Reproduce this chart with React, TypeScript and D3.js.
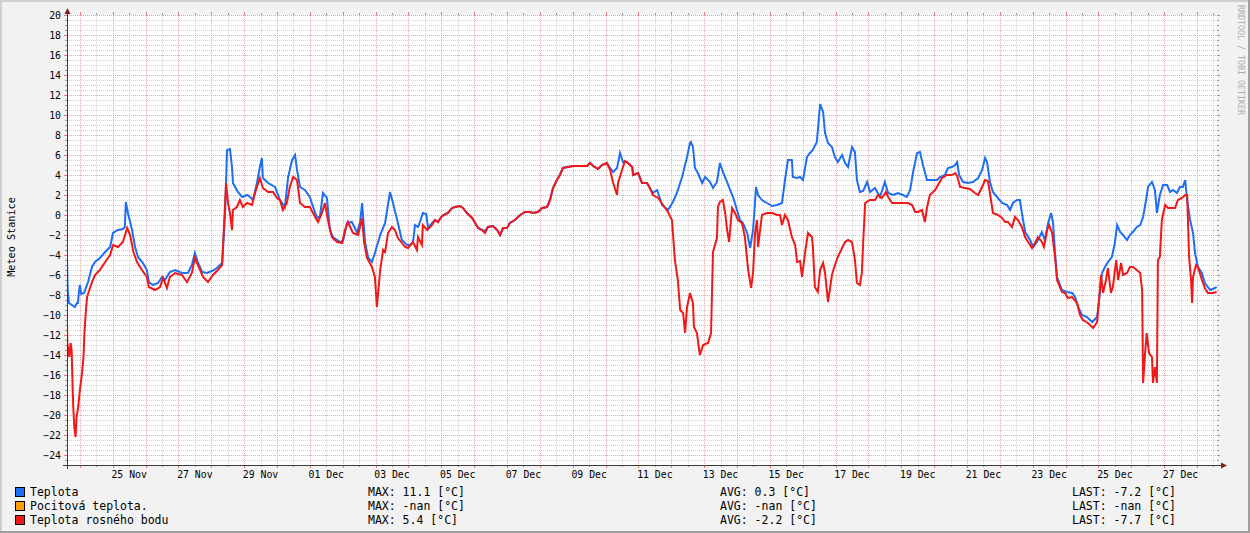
import React from "react";
import * as d3 from "d3";

// ---- data (time = days from 25 Nov 00:00 UTC, value = °C) ----
const BASE_UTC = Date.UTC(2023, 10, 25);
const DAY_MS = 86400000;
const RANGE_START_DAYS = -1.391;
const RANGE_END_DAYS = 33.609;

const teplota: [number, number][] = [
  [-1.39, -4.2], [-1.37, -7.5], [-1.33, -8.8], [-1.24, -9.0], [-1.15, -9.2], [-1.09, -8.8], [-1.06, -8.8], [-1.03, -7.8], [-1.0, -7.0], [-0.96, -7.9],
  [-0.87, -7.8], [-0.75, -6.7], [-0.63, -5.2], [-0.54, -4.7], [-0.39, -4.3], [-0.23, -3.7], [-0.08, -3.2], [0.01, -1.8], [0.16, -1.5], [0.31, -1.4],
  [0.37, -1.2], [0.4, 1.3], [0.47, 0.1], [0.59, -1.5], [0.68, -3.2], [0.77, -4.2], [0.92, -4.8], [1.04, -5.5], [1.1, -6.7], [1.23, -7.0],
  [1.38, -6.8], [1.5, -6.2], [1.59, -6.5], [1.74, -5.7], [1.9, -5.5], [2.11, -5.8], [2.29, -5.8], [2.41, -5.0], [2.5, -3.8], [2.6, -4.8],
  [2.72, -5.7], [2.87, -5.8], [3.02, -5.6], [3.17, -5.3], [3.33, -4.8], [3.36, -3.2], [3.42, 0.2], [3.48, 6.5], [3.57, 6.6], [3.63, 4.8],
  [3.66, 3.2], [3.81, 2.3], [3.94, 1.8], [4.09, 2.0], [4.18, 1.8], [4.27, 1.5], [4.39, 3.2], [4.48, 4.8], [4.54, 5.7], [4.57, 3.7],
  [4.73, 3.2], [4.94, 2.8], [5.09, 1.5], [5.24, 0.8], [5.34, 3.8], [5.46, 5.5], [5.55, 6.0], [5.61, 4.5], [5.7, 2.8], [5.85, 2.5],
  [6.0, 1.8], [6.1, 0.8], [6.22, -0.3], [6.31, -0.1], [6.4, 2.2], [6.52, 1.7], [6.61, -1.5], [6.7, -2.2], [6.92, -2.7], [7.01, -2.6],
  [7.13, -0.8], [7.28, -0.7], [7.44, -1.8], [7.53, -0.7], [7.59, 1.2], [7.68, -2.7], [7.77, -4.2], [7.89, -4.7], [7.98, -3.8], [8.14, -2.0],
  [8.29, -0.8], [8.44, 2.3], [8.53, 1.2], [8.68, -0.8], [8.8, -2.5], [8.96, -3.0], [9.05, -3.0], [9.14, -2.7], [9.2, -1.0], [9.29, -1.2],
  [9.35, -0.7], [9.44, 0.2], [9.54, 0.1], [9.6, -1.3], [9.72, -0.8],
  [9.81, -0.5], [9.9, -0.7], [10.02, -0.1], [10.2, 0.2], [10.33, 0.7], [10.42, 0.8], [10.57, 0.9], [10.66, 0.7], [10.78, 0.2], [10.94, -0.3],
  [11.03, -0.8], [11.12, -1.3], [11.24, -1.5], [11.33, -1.6], [11.42, -1.2], [11.57, -1.1], [11.7, -1.5], [11.79, -2.0], [11.88, -1.3], [12.0, -1.3],
  [12.09, -0.8], [12.24, -0.5], [12.4, 0.0], [12.55, 0.3], [12.7, 0.3], [12.79, 0.2], [12.94, 0.3], [13.07, 0.7], [13.22, 0.8], [13.31, 1.5],
  [13.4, 2.7], [13.52, 3.5], [13.61, 4.0], [13.7, 4.7], [13.86, 4.8], [14.01, 4.9], [14.22, 4.9], [14.44, 4.9], [14.53, 5.2], [14.62, 4.9],
  [14.77, 4.6], [14.89, 5.0], [15.04, 5.2],
  [15.14, 4.7], [15.23, 4.3], [15.35, 4.7], [15.44, 6.2], [15.53, 5.3], [15.65, 5.3], [15.81, 4.8], [15.84, 4.0], [15.99, 4.2], [16.11, 3.2],
  [16.26, 3.2], [16.35, 2.7], [16.44, 2.2], [16.57, 2.5], [16.72, 1.0], [16.9, 0.5], [17.05, 1.3], [17.17, 2.2], [17.33, 3.8], [17.48, 5.8],
  [17.57, 7.2], [17.6, 7.3], [17.66, 6.8], [17.72, 4.7], [17.81, 4.2], [17.94, 3.2], [18.03, 3.8], [18.18, 3.3], [18.27, 2.7], [18.39, 3.3],
  [18.48, 5.2], [18.57, 4.3], [18.7, 3.3], [18.79, 2.5], [18.88, 1.8], [19.0, 0.5], [19.09, -0.5], [19.18, -0.8], [19.31, -1.8], [19.4, -3.3],
  [19.49, -1.5], [19.58, 2.8], [19.64, 2.0], [19.76, 1.5], [19.91, 1.2], [20.07, 0.9], [20.22, 1.0], [20.37, 1.2], [20.46, 3.5], [20.55, 5.5],
  [20.67, 5.5], [20.7, 3.8], [20.83, 3.7], [20.92, 3.8], [21.01, 3.5], [21.13, 5.8], [21.22, 6.2], [21.31, 6.5], [21.43, 7.3], [21.53, 11.1],
  [21.62, 10.3], [21.68, 8.2], [21.77, 7.2], [21.89, 6.8], [21.98, 5.8], [22.07, 5.3], [22.2, 6.0], [22.29, 5.2], [22.38, 4.8], [22.5, 6.8],
  [22.59, 6.3], [22.65, 3.5], [22.74, 2.3], [22.84, 2.4], [22.96, 3.3], [23.05, 2.3], [23.2, 2.7], [23.35, 1.8], [23.5, 3.3], [23.6, 2.2],
  [23.75, 2.0], [23.9, 2.2], [24.05, 2.0], [24.17, 1.8], [24.27, 2.5], [24.36, 4.3], [24.48, 6.2], [24.57, 6.3], [24.66, 5.0], [24.78, 3.5],
  [24.94, 3.5], [25.09, 3.5], [25.18, 3.8], [25.33, 4.0], [25.42, 4.7], [25.54, 4.8], [25.64, 5.0], [25.7, 5.3], [25.76, 4.0], [25.88, 3.3],
  [26.03, 3.2], [26.18, 3.3], [26.34, 3.7], [26.46, 4.5], [26.55, 5.7], [26.61, 5.3], [26.7, 3.3], [26.79, 2.3], [26.94, 1.7], [27.07, 1.2],
  [27.22, 1.0], [27.31, 0.5], [27.4, 1.2], [27.52, 1.5], [27.61, 1.5], [27.67, 0.2], [27.77, -1.7], [27.92, -2.5], [28.01, -3.2], [28.13, -2.7],
  [28.28, -1.7], [28.37, -2.5], [28.47, -0.8], [28.56, 0.2], [28.62, -0.8], [28.68, -3.8], [28.74, -6.2], [28.89, -7.5], [29.04, -7.7], [29.2, -7.8],
  [29.29, -8.2], [29.38, -9.2], [29.5, -10.0], [29.65, -10.2], [29.81, -10.7], [29.96, -10.2], [30.02, -8.5], [30.11, -5.8], [30.2, -5.2], [30.29, -4.7],
  [30.41, -4.2], [30.5, -2.8], [30.57, -1.0], [30.66, -1.7], [30.75, -2.0], [30.87, -2.5], [30.96, -2.0], [31.05, -1.7], [31.17, -1.2], [31.27, -1.0],
  [31.36, -0.2], [31.45, 1.5], [31.51, 2.8], [31.63, 3.3], [31.72, 2.5], [31.78, 0.2], [31.87, 2.0], [31.97, 3.0], [32.09, 3.0], [32.18, 2.3],
  [32.27, 2.5], [32.39, 2.2], [32.48, 2.8], [32.57, 2.8], [32.64, 3.5], [32.7, 1.5], [32.79, -0.5], [32.88, -1.8], [32.94, -3.8], [33.03, -5.2],
  [33.15, -5.8], [33.24, -6.8], [33.4, -7.5], [33.55, -7.3], [33.6, -7.2],
];

const rosnyBod: [number, number][] = [
  [-1.39, -10.8], [-1.38, -12.8], [-1.32, -14.2], [-1.28, -12.8], [-1.25, -13.5], [-1.22, -17.2], [-1.2, -19.2], [-1.17, -21.2], [-1.13, -22.2], [-1.1, -20.2],
  [-1.05, -19.2], [-1.0, -17.5], [-0.94, -16.0], [-0.89, -14.3], [-0.86, -11.8], [-0.82, -9.8], [-0.78, -8.2], [-0.63, -6.7], [-0.54, -6.0], [-0.39, -5.5],
  [-0.23, -4.7], [-0.08, -4.0], [0.01, -3.0], [0.16, -3.2], [0.31, -2.7], [0.44, -1.3], [0.53, -2.0], [0.63, -3.7], [0.74, -4.7], [0.89, -5.5],
  [1.04, -6.2], [1.1, -7.2], [1.29, -7.5], [1.44, -7.2], [1.53, -6.3], [1.65, -7.3], [1.74, -6.2], [1.9, -5.8], [2.11, -6.0], [2.26, -6.7],
  [2.41, -5.8], [2.5, -4.3], [2.66, -5.5], [2.75, -6.2], [2.9, -6.7], [3.05, -6.0], [3.2, -5.5], [3.33, -5.0], [3.36, -3.0], [3.45, 3.2],
  [3.51, 1.2], [3.57, 0.2], [3.63, -1.5], [3.66, 0.5], [3.78, 0.8], [3.87, 1.5], [3.96, 0.8], [4.09, 1.2], [4.24, 1.0], [4.33, 2.2],
  [4.48, 3.7], [4.57, 2.7], [4.73, 2.3], [4.88, 2.3], [5.0, 1.7], [5.09, 1.5], [5.18, 0.5], [5.3, 1.2], [5.39, 2.8], [5.49, 3.8],
  [5.61, 3.5], [5.7, 1.2], [5.85, 0.8], [6.0, 0.8], [6.16, -0.2], [6.25, -0.7], [6.37, 0.2], [6.46, 1.2], [6.55, -0.5], [6.67, -2.2],
  [6.83, -2.7], [6.98, -2.8], [7.07, -1.5], [7.16, -0.7], [7.31, -1.8], [7.47, -2.0], [7.59, -0.3], [7.65, -2.7], [7.74, -4.3], [7.89, -5.2],
  [7.98, -6.2], [8.04, -9.2], [8.14, -5.5], [8.23, -3.5], [8.29, -3.7], [8.38, -1.8], [8.5, -1.2], [8.59, -1.5], [8.68, -2.3], [8.8, -2.8],
  [8.9, -3.2], [8.99, -3.3], [9.14, -2.7], [9.26, -3.5], [9.29, -2.2], [9.41, -3.0], [9.44, -1.0], [9.57, -1.5], [9.72, -1.0],
  [9.81, -0.5], [9.9, -0.7], [10.02, -0.1], [10.2, 0.2], [10.33, 0.7], [10.42, 0.8], [10.57, 0.9], [10.66, 0.7], [10.78, 0.2], [10.94, -0.3],
  [11.03, -0.8], [11.12, -1.3], [11.24, -1.5], [11.33, -1.8], [11.42, -1.2], [11.57, -1.1], [11.7, -1.5], [11.79, -2.0], [11.88, -1.3], [12.0, -1.3],
  [12.09, -0.8], [12.24, -0.5], [12.4, 0.0], [12.55, 0.3], [12.7, 0.3], [12.79, 0.2], [12.94, 0.3], [13.07, 0.7], [13.22, 0.8], [13.31, 1.5],
  [13.4, 2.7], [13.52, 3.5], [13.61, 4.0], [13.7, 4.7], [13.86, 4.8], [14.01, 4.9], [14.22, 4.9], [14.44, 4.9], [14.53, 5.2], [14.62, 4.9],
  [14.77, 4.6], [14.89, 5.0], [15.04, 5.2],
  [15.14, 4.5], [15.23, 3.2], [15.35, 2.0], [15.38, 3.2], [15.5, 4.5], [15.59, 5.4], [15.68, 5.2], [15.81, 4.8], [15.84, 4.0], [15.99, 4.2],
  [16.11, 3.2], [16.26, 3.2], [16.35, 2.7], [16.44, 2.0], [16.6, 1.7], [16.75, 1.0], [16.9, 0.3], [17.02, -0.5], [17.05, -1.8], [17.11, -4.5],
  [17.2, -6.5], [17.27, -9.5], [17.36, -9.8], [17.42, -11.8], [17.48, -9.2], [17.57, -7.8], [17.66, -8.8], [17.69, -11.2], [17.78, -11.8], [17.87, -14.0],
  [17.97, -13.0], [18.12, -12.8], [18.21, -11.8], [18.27, -3.7], [18.39, -2.3], [18.42, 0.8], [18.48, 1.3], [18.57, 1.5], [18.64, 0.2], [18.7, -1.5],
  [18.76, -2.7], [18.85, 0.7], [18.94, 0.2], [19.03, -0.5], [19.15, -0.8], [19.24, -2.2], [19.34, -5.5], [19.43, -7.3], [19.49, -5.7], [19.55, -1.8],
  [19.61, -0.5], [19.64, -3.2], [19.76, 0.0], [19.91, 0.2], [20.07, 0.2], [20.22, 0.0], [20.31, 0.0], [20.37, -1.0], [20.46, 0.0], [20.55, -0.5],
  [20.67, -2.2], [20.77, -3.0], [20.83, -4.7], [20.92, -4.6], [20.98, -6.2], [21.07, -3.8], [21.16, -1.8], [21.28, -2.2], [21.31, -3.2], [21.37, -7.2],
  [21.46, -7.7], [21.53, -5.5], [21.62, -4.8], [21.68, -5.8], [21.77, -8.7], [21.89, -6.0], [21.98, -5.0], [22.07, -4.2], [22.2, -3.3], [22.29, -2.7],
  [22.38, -2.5], [22.5, -2.7], [22.59, -4.5], [22.65, -6.8], [22.74, -7.0], [22.8, -5.8], [22.84, -2.8], [22.9, 1.2], [23.05, 1.5], [23.2, 1.5],
  [23.29, 2.0], [23.41, 1.7], [23.53, 2.3], [23.6, 1.8], [23.72, 1.2], [23.87, 1.2], [24.05, 1.2], [24.2, 1.2], [24.33, 1.0], [24.42, 0.3],
  [24.51, 0.3], [24.63, 0.5], [24.72, -0.7], [24.78, 0.7], [24.87, 2.0], [25.03, 2.5], [25.12, 3.0], [25.24, 3.7], [25.39, 4.0], [25.54, 4.0],
  [25.64, 4.2], [25.7, 3.9], [25.79, 2.8], [25.94, 2.7], [26.09, 2.6], [26.24, 2.2], [26.34, 2.0], [26.46, 2.8], [26.55, 3.5], [26.64, 3.4],
  [26.73, 1.5], [26.79, 0.2], [26.94, 0.0], [27.07, -0.3], [27.16, -0.7], [27.25, -0.7], [27.37, -1.2], [27.46, -0.2], [27.55, -0.5], [27.67, -1.2],
  [27.77, -2.2], [27.86, -2.7], [27.98, -3.3], [28.07, -2.8], [28.16, -2.2], [28.28, -2.7], [28.34, -3.2], [28.44, -1.5], [28.5, -1.0], [28.59, -1.8],
  [28.68, -4.2], [28.74, -6.5], [28.89, -7.7], [28.98, -7.8], [29.07, -8.3], [29.2, -8.2], [29.35, -8.8], [29.44, -10.0], [29.53, -10.5], [29.68, -10.8],
  [29.84, -11.3], [29.96, -10.7], [30.02, -8.5], [30.08, -6.0], [30.14, -7.8], [30.23, -6.5], [30.29, -5.3], [30.38, -7.8], [30.44, -7.2], [30.54, -4.5],
  [30.6, -6.5], [30.69, -4.8], [30.75, -6.0], [30.87, -5.8], [30.96, -5.2], [31.05, -5.2], [31.17, -5.5], [31.27, -5.8], [31.33, -7.5], [31.36, -16.8],
  [31.42, -13.8], [31.47, -11.8], [31.54, -13.8], [31.63, -14.2], [31.66, -16.8], [31.72, -15.2], [31.78, -16.8], [31.81, -4.5], [31.87, -4.2], [31.93, -0.5],
  [32.03, 1.0], [32.12, 0.7], [32.24, 0.7], [32.33, 0.7], [32.42, 1.5], [32.54, 1.7], [32.64, 2.0], [32.7, 2.0], [32.76, -4.2], [32.82, -6.5],
  [32.85, -8.8], [32.88, -6.2], [32.97, -5.0], [33.03, -5.2], [33.15, -6.5], [33.24, -7.3], [33.33, -7.8], [33.49, -7.8], [33.6, -7.7],
];

const seriesNames = ["Teplota", "Pocitová teplota.", "Teplota rosného bodu"];
const seriesColors = ["#1E6EF2", "#FF9C00", "#F01818"];
const maxLabels = ["MAX: 11.1 [°C]", "MAX: -nan [°C]", "MAX: 5.4 [°C]"];
const avgLabels = ["AVG: 0.3 [°C]", "AVG: -nan [°C]", "AVG: -2.2 [°C]"];
const lastLabels = ["LAST: -7.2 [°C]", "LAST: -nan [°C]", "LAST: -7.7 [°C]"];
const yTitle = "Meteo Stanice";
const watermark = "RRDTOOL / TOBI OETIKER";
const Y_MIN = -25;
const Y_MAX = 20;
const Y_LABEL_STEP = 2;
const Y_MINOR_STEP = 0.5;

// ---- layout ----
const W = 1250;
const H = 533;
const PL = 67;
const PT = 15;
const PW = 1150;
const PH = 450;
const MONO = "'DejaVu Sans Mono', monospace";

const toDate = (d: number) => new Date(BASE_UTC + d * DAY_MS);

export default function App() {
  const start = toDate(RANGE_START_DAYS);
  const end = toDate(RANGE_END_DAYS);
  const x = d3.scaleUtc().domain([start, end]).range([PL, PL + PW]);
  const y = d3.scaleLinear().domain([Y_MIN, Y_MAX]).range([PT + PH, PT]);

  const majorY = d3.range(Y_MIN + 1, Y_MAX + 0.001, Y_LABEL_STEP);
  const minorY = d3
    .range(Y_MIN, Y_MAX + 0.001, Y_MINOR_STEP)
    .filter((v) => !majorY.some((m) => Math.abs(m - v) < 1e-6));
  const majorX = d3.utcDay.range(start, end);
  const minorX = d3.utcHour.every(12)!.range(start, end).filter((t) => t.getUTCHours() === 12);
  const labelDays = d3.utcDay
    .every(2)!
    .range(d3.utcDay.offset(start, -1), end)
    .map((t) => new Date(+t + DAY_MS / 2))
    .filter((t) => t >= start && t <= end);
  const fmt = d3.utcFormat("%d %b");

  const line = d3
    .line<[number, number]>()
    .x((d) => x(toDate(d[0])))
    .y((d) => y(d[1]));

  const minorCol = "#d3d3d3";
  const majorCol = "#eaa4a4";
  const arrowCol = "#7f1f1f";

  return (
    <svg
      width={W}
      height={H}
      viewBox={`0 0 ${W} ${H}`}
      style={{ position: "absolute", left: 0, top: 0, display: "block" }}
    >
      {/* frame */}
      <rect x={0} y={0} width={W} height={H} fill="#f2f2f2" />
      <rect x={0} y={0} width={W} height={2} fill="#cfcfcf" />
      <rect x={0} y={0} width={2} height={H} fill="#cfcfcf" />
      <rect x={0} y={H - 2} width={W} height={2} fill="#9e9e9e" />
      <rect x={W - 2} y={0} width={2} height={H} fill="#9e9e9e" />

      {/* canvas */}
      <rect x={PL} y={PT} width={PW} height={PH} fill="#ffffff" />

      {/* minor grid */}
      <g stroke={minorCol} strokeWidth={1} strokeDasharray="1,1" shapeRendering="crispEdges">
        {minorY.map((v) => (
          <line key={"hy" + v} x1={PL} x2={PL + PW} y1={Math.round(y(v)) + 0.5} y2={Math.round(y(v)) + 0.5} />
        ))}
        {minorX.map((t) => (
          <line key={"vx" + +t} y1={PT} y2={PT + PH} x1={Math.round(x(t)) + 0.5} x2={Math.round(x(t)) + 0.5} />
        ))}
      </g>
      {/* major grid */}
      <g stroke={majorCol} strokeWidth={1} strokeDasharray="1,1" shapeRendering="crispEdges">
        {majorY.map((v) => (
          <line key={"My" + v} x1={PL} x2={PL + PW} y1={Math.round(y(v)) + 0.5} y2={Math.round(y(v)) + 0.5} />
        ))}
        {majorX.map((t) => (
          <line key={"Mx" + +t} y1={PT} y2={PT + PH} x1={Math.round(x(t)) + 0.5} x2={Math.round(x(t)) + 0.5} />
        ))}
      </g>

      {/* tick marks */}
      <g strokeWidth={1} shapeRendering="crispEdges">
        {minorY.map((v) => (
          <g key={"ty" + v} stroke="#9a9a9a">
            <line x1={PL - 2} x2={PL} y1={Math.round(y(v)) + 0.5} y2={Math.round(y(v)) + 0.5} />
            <line x1={PL + PW} x2={PL + PW + 2} y1={Math.round(y(v)) + 0.5} y2={Math.round(y(v)) + 0.5} />
          </g>
        ))}
        {majorY.map((v) => (
          <g key={"tY" + v} stroke="#e07878">
            <line x1={PL - 3} x2={PL} y1={Math.round(y(v)) + 0.5} y2={Math.round(y(v)) + 0.5} />
            <line x1={PL + PW} x2={PL + PW + 3} y1={Math.round(y(v)) + 0.5} y2={Math.round(y(v)) + 0.5} />
          </g>
        ))}
        {minorX.map((t) => (
          <g key={"tx" + +t} stroke="#9a9a9a">
            <line y1={PT + PH} y2={PT + PH + 2} x1={Math.round(x(t)) + 0.5} x2={Math.round(x(t)) + 0.5} />
            <line y1={PT - 2} y2={PT} x1={Math.round(x(t)) + 0.5} x2={Math.round(x(t)) + 0.5} />
          </g>
        ))}
        {majorX.map((t) => (
          <g key={"tX" + +t} stroke="#e07878">
            <line y1={PT + PH} y2={PT + PH + 3} x1={Math.round(x(t)) + 0.5} x2={Math.round(x(t)) + 0.5} />
            <line y1={PT - 3} y2={PT} x1={Math.round(x(t)) + 0.5} x2={Math.round(x(t)) + 0.5} />
          </g>
        ))}
      </g>

      {/* data lines */}
      <defs>
        <clipPath id="plotClip">
          <rect x={PL} y={PT - 1} width={PW} height={PH + 2} />
        </clipPath>
      </defs>
      <g clipPath="url(#plotClip)" fill="none" strokeWidth={2} strokeLinejoin="miter">
        <path d={line(teplota) || ""} stroke={seriesColors[0]} />
        <path d={line(rosnyBod) || ""} stroke={seriesColors[2]} />
      </g>

      {/* axes */}
      <g stroke="#3a3a3a" strokeWidth={1} shapeRendering="crispEdges">
        <line x1={PL - 4} x2={PL + PW + 5} y1={PT + PH + 0.5} y2={PT + PH + 0.5} />
        <line x1={PL + 0.5} x2={PL + 0.5} y1={PT + PH + 4} y2={PT - 5} />
      </g>
      <path d={`M${PL - 2.5},${PT - 1} L${PL + 3.5},${PT - 1} L${PL + 0.5},${PT - 7} Z`} fill={arrowCol} />
      <path
        d={`M${PL + PW + 4},${PT + PH - 2.5} L${PL + PW + 4},${PT + PH + 3.5} L${PL + PW + 10},${PT + PH + 0.5} Z`}
        fill={arrowCol}
      />

      {/* y labels */}
      <g fontFamily={MONO} fontSize={9.8} fill="#000" textAnchor="end">
        {majorY.map((v) => (
          <text key={"yl" + v} x={PL - 6} y={y(v) + 3.8}>
            {d3.format("d")(v)}
          </text>
        ))}
      </g>
      {/* x labels */}
      <g fontFamily={MONO} fontSize={9.8} fill="#000" textAnchor="middle">
        {labelDays.map((t) => (
          <text key={"xl" + +t} x={x(t)} y={PT + PH + 12.5}>
            {fmt(t)}
          </text>
        ))}
      </g>

      {/* y title */}
      <text
        fontFamily={MONO}
        fontSize={10.2}
        fill="#000"
        textAnchor="middle"
        transform={`translate(14.5, ${PT + PH / 2 - 3}) rotate(-90)`}
      >
        {yTitle}
      </text>

      {/* watermark */}
      <text
        fontFamily={MONO}
        fontSize={8.3}
        fill="#acacac"
        textAnchor="start"
        transform={`translate(1237.5, 5) rotate(90)`}
      >
        {watermark}
      </text>

      {/* legend */}
      <g fontFamily={MONO} fontSize={11.5} fill="#000">
        {seriesNames.map((name, i) => {
          const base = 496 + i * 14;
          return (
            <g key={name}>
              <rect x={15.5} y={base - 8.5} width={9} height={9} fill={seriesColors[i]} stroke="#000" strokeWidth={1} />
              <text x={30} y={base} style={{ whiteSpace: "pre" }}>
                {name}
              </text>
              <text x={368} y={base}>{maxLabels[i]}</text>
              <text x={720} y={base}>{avgLabels[i]}</text>
              <text x={1072} y={base}>{lastLabels[i]}</text>
            </g>
          );
        })}
      </g>
    </svg>
  );
}
